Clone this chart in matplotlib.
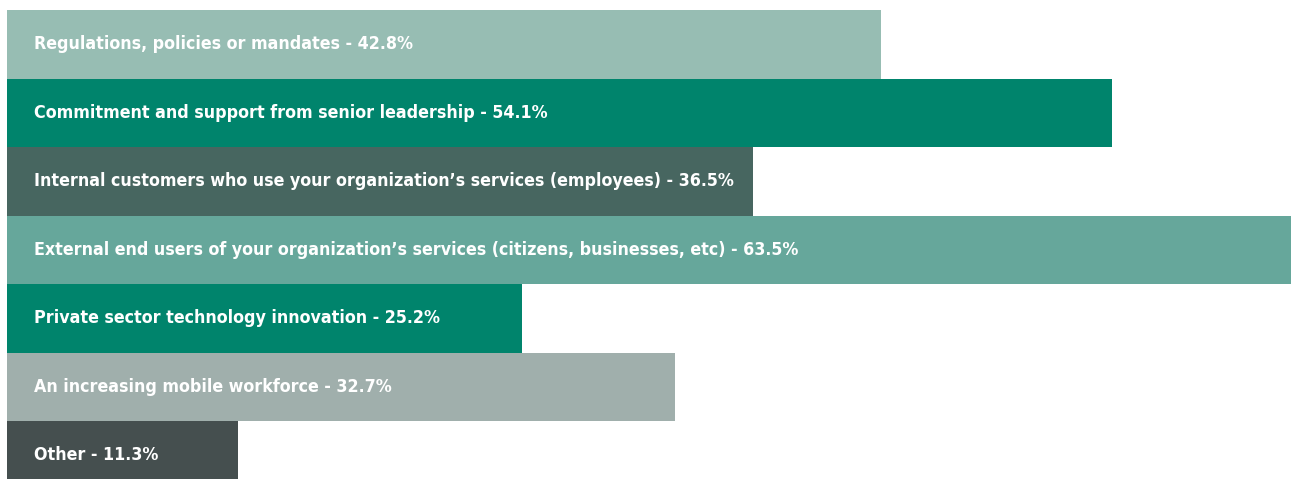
import matplotlib
matplotlib.use("Agg")
import matplotlib.pyplot as plt
from matplotlib import font_manager

# Survey drivers and share of respondents (%)
labels = [
    "Regulations, policies or mandates",
    "Commitment and support from senior leadership",
    "Internal customers who use your organization\u2019s services (employees)",
    "External end users of your organization\u2019s services (citizens, businesses, etc)",
    "Private sector technology innovation",
    "An increasing mobile workforce",
    "Other",
]
values = [42.8, 54.1, 36.5, 63.5, 25.2, 32.7, 11.3]
colors = ["#97BDB3", "#00846C", "#476660", "#66A79B", "#00846C", "#A0AFAC", "#454F4F"]

W, H, DPI = 1291, 479, 100
fig = plt.figure(figsize=(W / DPI, H / DPI), dpi=DPI)
fig.patch.set_facecolor("white")

# axes spans from 7px to right edge; long bar runs past the frame
left_px = 7
px_per_unit = 20.43
row_px = 68.5
top_px = 10
ax = fig.add_axes([left_px / W, 0, 1 - left_px / W, 1])
ax.set_xlim(0, (W - left_px) / px_per_unit)
y_top = -0.5 - top_px / row_px
y_bot = y_top + H / row_px
ax.set_ylim(y_bot, y_top)
ax.axis("off")

names = {f.name for f in font_manager.fontManager.ttflist}
family = "Liberation Sans Narrow" if "Liberation Sans Narrow" in names else "DejaVu Sans"
stretch = "normal" if family == "Liberation Sans Narrow" else "condensed"

ax.barh(range(len(values)), values, height=1.0, color=colors, linewidth=0)

fig.canvas.draw()
renderer = fig.canvas.get_renderer()
fs = 15
for i, (lab, v) in enumerate(zip(labels, values)):
    t = ax.text(27 / px_per_unit, i, f"{lab} - {v}%", color="white",
                fontsize=fs, fontweight="bold", family=family, fontstretch=stretch,
                va="center", ha="left")
    if i == 0:
        w = t.get_window_extent(renderer).width
        fs = fs * 379 / w
        t.set_fontsize(fs)

fig.savefig("out.png", dpi=DPI)
